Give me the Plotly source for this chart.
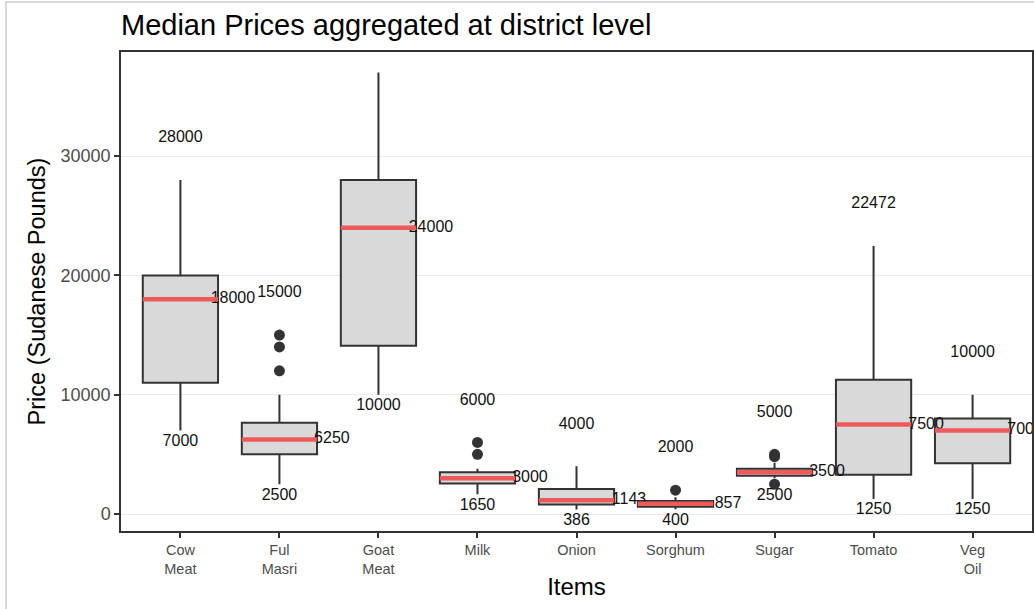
import plotly.graph_objects as go

items = ["Cow<br>Meat", "Ful<br>Masri", "Goat<br>Meat", "Milk", "Onion", "Sorghum", "Sugar", "Tomato", "Veg<br>Oil"]
lower_whisker = [7000, 2500, 10000, 1650, 386, 400, 3000, 1250, 1250]
q1 = [11000, 5000, 14100, 2550, 800, 600, 3200, 3300, 4250]
medians = [18000, 6250, 24000, 3000, 1143, 857, 3500, 7500, 7000]
q3 = [20000, 7650, 28000, 3500, 2100, 1100, 3800, 11250, 8000]
upper_whisker = [28000, 10000, 37000, 3800, 4000, 1400, 4300, 22472, 10000]
min_price = [7000, 2500, 10000, 1650, 386, 400, 2500, 1250, 1250]
max_price = [28000, 15000, 37000, 6000, 4000, 2000, 5000, 22472, 10000]
outlier_item = [1, 1, 1, 3, 3, 5, 6, 6, 6]
outlier_price = [15000, 14000, 12000, 6000, 5000, 2000, 5000, 4800, 2500]
y_ticks = [0, 10000, 20000, 30000]
y_range = [-1425, 38725]

pos = list(range(len(items)))
box_w = 0.76
max_offset = 3500
min_offset = 950

fig = go.Figure()

fig.add_trace(go.Box(
    x=pos, q1=q1, median=medians, q3=q3,
    lowerfence=lower_whisker, upperfence=upper_whisker,
    width=box_w, whiskerwidth=0, boxpoints=False,
    fillcolor="#D9D9D9", line=dict(color="#333333", width=2),
    hoverinfo="skip", showlegend=False,
))

fig.add_trace(go.Scatter(
    x=[pos[i] for i in outlier_item], y=outlier_price, mode="markers",
    marker=dict(color="#333333", size=11), showlegend=False, hoverinfo="skip",
))

label_font = dict(family="Liberation Sans, Arial, sans-serif", size=16, color="#111111")
# max labels (those falling beyond the visible range are not drawn, as in the original)
vis = [i for i in pos if max_price[i] + max_offset < y_range[1]]
fig.add_trace(go.Scatter(
    x=[pos[i] for i in vis], y=[max_price[i] + max_offset for i in vis], mode="text",
    text=[str(max_price[i]) for i in vis], textfont=label_font,
    showlegend=False, hoverinfo="skip", cliponaxis=True,
))
fig.add_trace(go.Scatter(
    x=pos, y=[v - min_offset for v in min_price], mode="text",
    text=[str(v) for v in min_price], textfont=label_font,
    showlegend=False, hoverinfo="skip", cliponaxis=True,
))
fig.add_trace(go.Scatter(
    x=[p + 0.53 for p in pos], y=medians, mode="text",
    text=[str(v) for v in medians], textfont=label_font,
    showlegend=False, hoverinfo="skip", cliponaxis=True,
))

mx, my = [], []
for p, m in zip(pos, medians):
    mx += [p - box_w / 2, p + box_w / 2, None]
    my += [m, m, None]
fig.add_trace(go.Scatter(
    x=mx, y=my, mode="lines", line=dict(color="#EE5A5A", width=4.5),
    showlegend=False, hoverinfo="skip",
))

fig.update_layout(
    width=1034, height=609,
    margin=dict(l=121, r=2, t=52, b=78, autoexpand=False),
    paper_bgcolor="white", plot_bgcolor="white",
    font=dict(family="Liberation Sans, Arial, sans-serif"),
    title=dict(text="Median Prices aggregated at district level",
               x=121 / 1034, xanchor="left", y=1 - 25 / 609, yanchor="middle",
               font=dict(size=29, color="#000000")),
    xaxis=dict(
        range=[-0.6, 8.6], tickvals=pos, ticktext=items, automargin=False,
        showgrid=False, zeroline=False,
        showline=True, linecolor="#333333", linewidth=1.5, mirror=True,
        ticks="outside", ticklen=5, tickcolor="#333333", tickwidth=1.5,
        tickfont=dict(size=14.5, color="#4D4D4D"),
        title=dict(text="Items", font=dict(size=24, color="#000000"), standoff=2),
    ),
    yaxis=dict(
        range=y_range, tickvals=y_ticks, ticktext=[str(v) for v in y_ticks],
        automargin=False,
        showgrid=True, gridcolor="#EBEBEB", gridwidth=1, zeroline=False,
        showline=True, linecolor="#333333", linewidth=1.5, mirror=True,
        ticks="outside", ticklen=5, tickcolor="#333333", tickwidth=1.5,
        tickfont=dict(size=18, color="#4D4D4D"),
        title=dict(text="Price (Sudanese Pounds)", font=dict(size=23.5, color="#000000"), standoff=8),
    ),
    shapes=[dict(type="rect", xref="paper", yref="paper",
                 x0=-115 / 911, x1=1.2, y0=-0.3, y1=(531 - 2) / 479,
                 line=dict(color="#CCCCCC", width=1.5), fillcolor="rgba(0,0,0,0)", layer="below")],
)

fig.write_html("out.html", config={"displayModeBar": False},
               post_script="document.body.style.margin='0';document.body.style.overflow='hidden';")
